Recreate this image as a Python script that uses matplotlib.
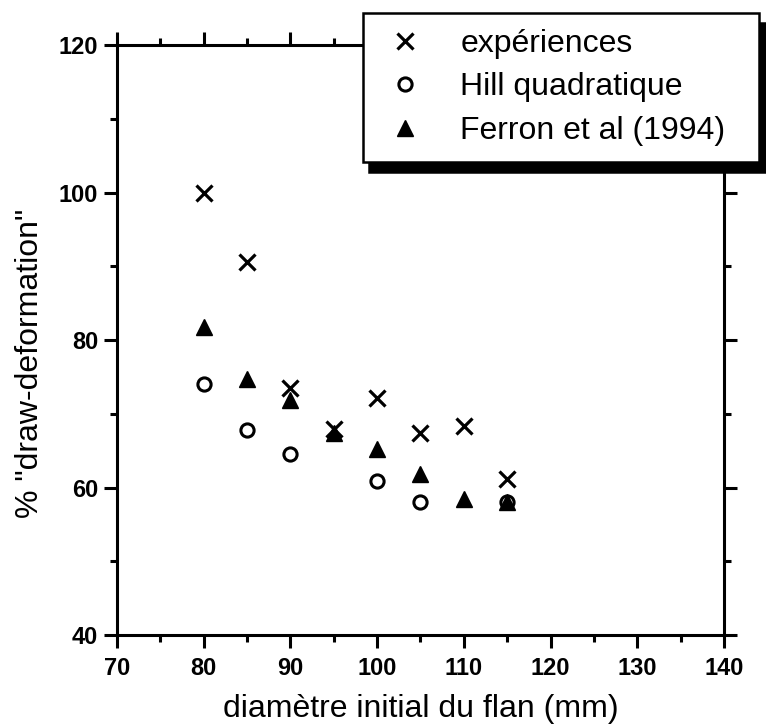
import numpy as np
import matplotlib.pyplot as plt
from matplotlib.ticker import MultipleLocator

plt.rcParams['font.family'] = ['Liberation Sans', 'DejaVu Sans']

# données
diametre = [80, 85, 90, 95, 100, 105, 110, 115]
experiences = [100.0, 90.6, 73.5, 68.0, 72.2, 67.4, 68.3, 61.2]
hill = [74.1, 67.8, 64.6, np.nan, 60.9, 58.1, np.nan, 58.1]
ferron = [81.8, 74.7, 71.9, 67.4, 65.2, 61.8, 58.5, 58.0]

fig = plt.figure(figsize=(7.66, 7.26), dpi=100)
ax = fig.add_axes([0.1527, 0.1253, 0.7924, 0.8127])

ax.plot(diametre, experiences, 'x', color='black', markersize=11.5, markeredgewidth=2.3, label='expériences')
ax.plot(diametre, hill, 'o', color='black', markerfacecolor='white', markersize=9.5, markeredgewidth=2.2, label='Hill quadratique')
ax.plot(diametre, ferron, '^', color='black', markersize=11, label='Ferron et al (1994)')

ax.set_xlim(70, 140)
ax.set_ylim(40, 120)
ax.xaxis.set_major_locator(MultipleLocator(10))
ax.xaxis.set_minor_locator(MultipleLocator(5))
ax.yaxis.set_major_locator(MultipleLocator(20))
ax.yaxis.set_minor_locator(MultipleLocator(10))

for s in ax.spines.values():
    s.set_linewidth(2.2)
ax.tick_params(which='both', direction='out', top=True, right=True, width=2.2, labelsize=17)
ax.tick_params(which='major', length=9.5)
ax.tick_params(which='minor', length=5)
ax.tick_params(axis='x', pad=6)
ax.tick_params(axis='y', pad=4)
for lab in ax.get_xticklabels() + ax.get_yticklabels():
    lab.set_fontweight('bold')

ax.set_xlabel('diamètre initial du flan (mm)', fontsize=23)
ax.set_ylabel('% "draw-deformation"', fontsize=23)
ax.xaxis.set_label_coords(0.5, -0.1)
ax.yaxis.set_label_coords(-0.1186, 0.46)

leg = ax.legend(loc='upper left', bbox_to_anchor=(363/766, (726 - 163)/726, 396/766, 150/726),
                bbox_transform=fig.transFigure, mode='expand',
                fontsize=23, frameon=True, fancybox=False, borderaxespad=0,
                handletextpad=0.95, labelspacing=0.42, borderpad=0.5, handlelength=1.6,
                shadow={'color': 'black', 'alpha': 1, 'ox': 4.5, 'oy': -7})
leg.get_frame().set_edgecolor('black')
leg.get_frame().set_linewidth(1.8)
leg.get_frame().set_alpha(1)

plt.savefig('out.png', dpi=100)
